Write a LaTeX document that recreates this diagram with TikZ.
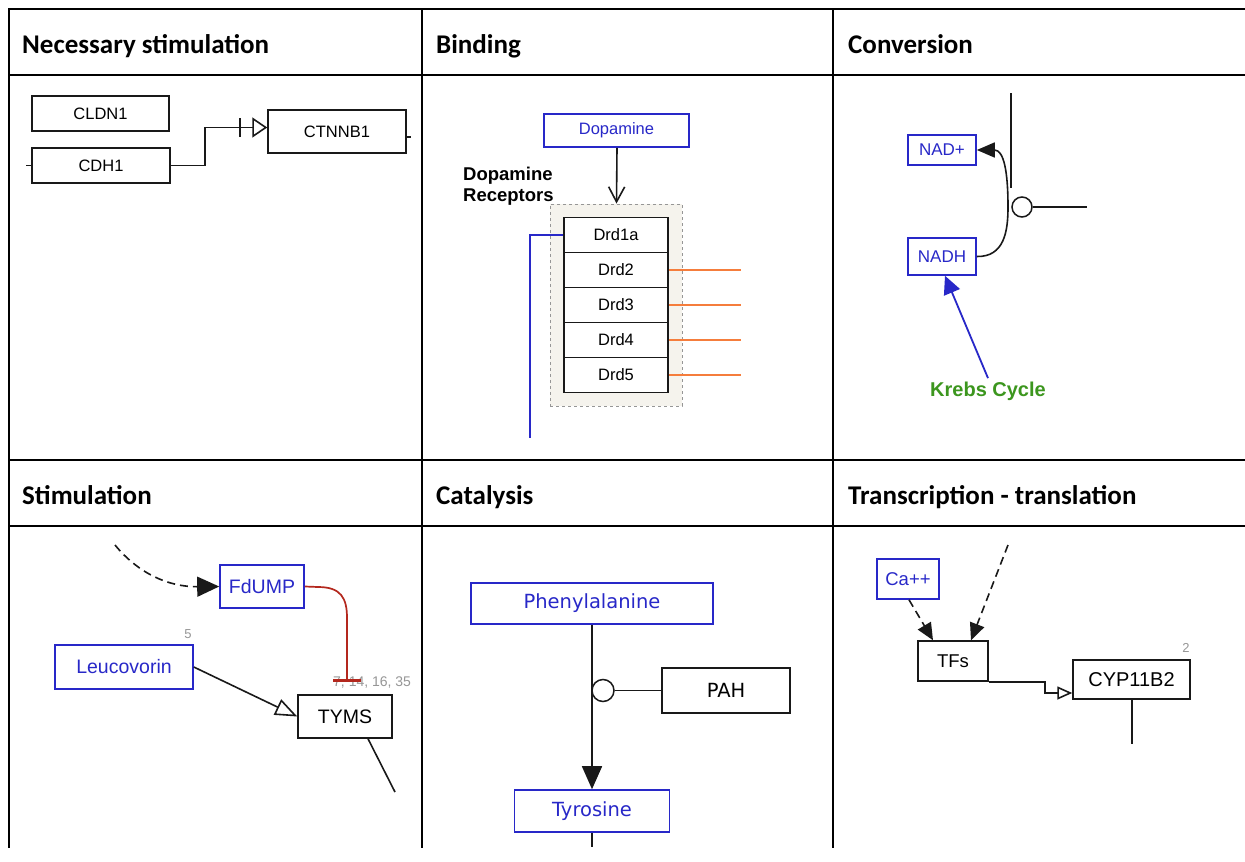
\documentclass[tikz,border=0pt]{standalone}
\usepackage{fontspec}
\setmainfont{Carlito}
\newfontfamily\arialf{Liberation Sans}
\newfontfamily\dejaf{DejaVu Sans}
\usetikzlibrary{arrows.meta}
\newcommand\pfs[1]{\fontsize{#1}{#1}\selectfont}
\definecolor{pblue}{RGB}{40,40,200}
\definecolor{porange}{RGB}{245,125,60}
\definecolor{pred}{RGB}{180,40,30}
\definecolor{pgreen}{RGB}{60,150,30}
\definecolor{pgray}{RGB}{150,150,150}
\definecolor{grpfill}{RGB}{245,243,237}
\definecolor{pline}{RGB}{25,25,25}
\begin{document}
\begin{tikzpicture}[x=1pt,y=-1pt,
  hdr/.style={anchor=base west, inner sep=0pt, font=\pfs{27}\bfseries},
  gbox/.style={draw=pline, line width=1.5pt, fill=white, inner sep=0pt, font=\arialf\pfs{16.5}},
  bbox/.style={gbox, draw=pblue, text=pblue, line width=1.6pt},
  conn/.style={draw=pline, line width=1.6pt},
  rec/.style={gbox, minimum width=104pt, minimum height=35pt},
  oline/.style={draw=porange, line width=2pt},
  dsh/.style={conn, dash pattern=on 8pt off 5pt}
]
\useasboundingbox (0,0) rectangle (1245,862);
\fill[white] (0,0) rectangle (1245,862);

% ---- table ----
\draw[line width=2.4pt] (9,9) -- (1245,9);
\draw[line width=2.4pt] (9,75) -- (1245,75);
\draw[line width=2.4pt] (9,460) -- (1245,460);
\draw[line width=2.4pt] (9,526) -- (1245,526);
\draw[line width=2.4pt] (9,8) -- (9,848);
\draw[line width=2.4pt] (422,8) -- (422,848);
\draw[line width=2.4pt] (833,8) -- (833,848);

\node[hdr] (h1) at (22,53) {Necessary stimulation};
\node[hdr] (h2) at (436,53) {Binding};
\node[hdr] (h3) at (848,53) {Conversion};
\node[hdr] (h4) at (22,504) {Stimulation};
\node[hdr] (h5) at (436,504) {Catalysis};
\node[hdr] (h6) at (848,504) {Transcription - translation};

% ---- Necessary stimulation ----
\node[gbox, minimum width=137pt, minimum height=35pt] (cldn1) at (100.5,113.5) {CLDN1};
\node[gbox, minimum width=138pt, minimum height=35pt] (cdh1) at (101,165.5) {CDH1};
\node[gbox, minimum width=138pt, minimum height=43pt] (ctnnb1) at (337,131.5) {CTNNB1};
\draw[conn] (cdh1.west) -- ++(-5,0);
\draw[conn] ([yshift=-5.5pt]ctnnb1.east) -- ++(4,0);
\draw[conn, -{Triangle[open,length=15pt,width=20pt]}] (cdh1.east) -- ++(34,0) |- ([yshift=4pt]ctnnb1.west);
\draw[conn] (240,118) -- (240,137);

% ---- Binding ----
\node[bbox, minimum width=145pt, minimum height=33pt] (dopa) at (616.5,130.5) {Dopamine};
\node[draw=pgray, dashed, line width=0.9pt, fill=grpfill, minimum width=132pt, minimum height=202pt, inner sep=0pt] (grp) at (616,305) {};
\node[rec] (d1) at (616,235) {Drd1a};
\node[rec] (d2) at (616,270) {Drd2};
\node[rec] (d3) at (616,305) {Drd3};
\node[rec] (d4) at (616,340) {Drd4};
\node[rec] (d5) at (616,375) {Drd5};
\draw[conn, -{Straight Barb[length=15pt,width=16pt]}] ([xshift=0.5pt]dopa.south) -- ([xshift=0.5pt]grp.north);
\node[anchor=west, align=left, inner sep=0pt, font=\arialf\bfseries\fontsize{18.5}{20.5}\selectfont] (dlab) at (463,186) {Dopamine\\Receptors};
\coordinate (bdown) at (530,438);
\draw[draw=pblue, line width=1.6pt] (d1.west) -| (bdown);
\draw[oline] (d2.east) -- ++(72,0);
\draw[oline] (d3.east) -- ++(72,0);
\draw[oline] (d4.east) -- ++(72,0);
\draw[oline] (d5.east) -- ++(72,0);

% ---- Conversion ----
\node[bbox, minimum width=68pt, minimum height=30pt, font=\arialf\pfs{17}] (nadp) at (942,150) {NAD+};
\node[bbox, minimum width=68pt, minimum height=37pt, font=\arialf\pfs{17}] (nadh) at (942,256.5) {NADH};
\coordinate (cvtop) at (1011,93);
\coordinate (cvbot) at (1011,188);
\coordinate (cvright) at (1087,207);
\draw[conn] (cvtop) -- (cvbot);
\draw[conn, -{Triangle[length=18pt,width=15pt]}] (nadh.east) .. controls (1004,257) and (1008,232) .. (1008,207) .. controls (1008,172) and (1004,150) .. (nadp.east);
\node[circle, draw=pline, line width=1.5pt, fill=white, minimum size=20pt, inner sep=0pt] (cv) at (1022,207) {};
\draw[conn] (cv.east) -- (cvright);
\node[text=pgreen, font=\arialf\bfseries\pfs{20}] (krebs) at (988,391) {Krebs Cycle};
\draw[draw=pblue, line width=1.8pt, -{Triangle[length=18pt,width=17pt]}] (krebs.north) -- ([xshift=3pt]nadh.south);

% ---- Stimulation ----
\node[bbox, minimum width=84pt, minimum height=43pt, font=\arialf\pfs{19.5}] (fdump) at (262,586.5) {FdUMP};
\node[bbox, minimum width=138pt, minimum height=44pt, font=\arialf\pfs{19.5}] (leu) at (124,667) {Leucovorin};
\node[gbox, minimum width=94pt, minimum height=43pt, font=\arialf\pfs{19.5}] (tyms) at (345,716.5) {TYMS};
\coordinate (dstart) at (115,545);
\draw[dsh, -{Triangle[length=22pt,width=20pt]}] (dstart) .. controls (138,573) and (168,587) .. (fdump.west);
\begin{scope}
\clip (300,668) rectangle (411.5,696);
\node[anchor=west, inner sep=0pt, text=pgray, font=\arialf\pfs{14}] (refs) at (333,682) {7, 14, 16, 35};
\end{scope}
\coordinate (fbar) at (347,682);
\draw[draw=pred, line width=1.7pt, -{Bar[width=28pt,line width=3pt]}] (fdump.east) -- (318,587) .. controls (341,587) and (347,598) .. (347,618) -- (fbar);
\node[text=pgray, font=\arialf\pfs{13}] (n5) at (188,634) {5};
\draw[conn, -{Triangle[open,length=22pt,width=17pt]}] (leu.east) -- (tyms.west);
\coordinate (tymsend) at (395,792);
\draw[conn] ([xshift=23pt]tyms.south) -- (tymsend);

% ---- Catalysis ----
\node[bbox, minimum width=242pt, minimum height=41pt, font=\dejaf\pfs{19.5}] (phe) at (592,603.5) {Phenylalanine};
\node[bbox, minimum width=155pt, minimum height=42pt, font=\dejaf\pfs{19.5}] (tyr) at (592,811) {Tyrosine};
\node[gbox, minimum width=128pt, minimum height=45pt, font=\dejaf\pfs{19.5}] (pah) at (726,690.5) {PAH};
\draw[conn, -{Triangle[length=23pt,width=20pt]}] (phe.south) -- (tyr.north);
\node[circle, draw=pline, line width=1.5pt, fill=white, minimum size=22pt, inner sep=0pt] (cat) at (603,690.5) {};
\draw[conn] (cat.east) -- (pah.west);
\coordinate (tyrend) at (592,847);
\draw[conn] (tyr.south) -- (tyrend);

% ---- Transcription - translation ----
\node[bbox, minimum width=62pt, minimum height=40pt, font=\arialf\pfs{18.5}] (ca) at (908,579) {Ca++};
\node[gbox, minimum width=70pt, minimum height=40pt, font=\arialf\pfs{18.5}] (tfs) at (953,661) {TFs};
\node[gbox, minimum width=117pt, minimum height=39pt, font=\arialf\pfs{20}] (cyp) at (1131.5,679.5) {CYP11B2};
\draw[dsh, -{Triangle[length=17pt,width=15pt]}] ([xshift=1pt]ca.south) -- ([xshift=-20pt]tfs.north);
\coordinate (tstart) at (1008,545);
\draw[dsh, -{Triangle[length=17pt,width=15pt]}] (tstart) -- ([xshift=18pt]tfs.north);
\draw[conn, -{Triangle[open,length=15pt,width=13pt]}] (tfs.south east) -- ++(56,0) |- ([yshift=-13.5pt]cyp.west);
\node[text=pgray, font=\arialf\pfs{13}] (n2) at (1186,648) {2};
\coordinate (cypend) at (1132,744);
\draw[conn] ([xshift=0.5pt]cyp.south) -- (cypend);
\end{tikzpicture}
\end{document}
